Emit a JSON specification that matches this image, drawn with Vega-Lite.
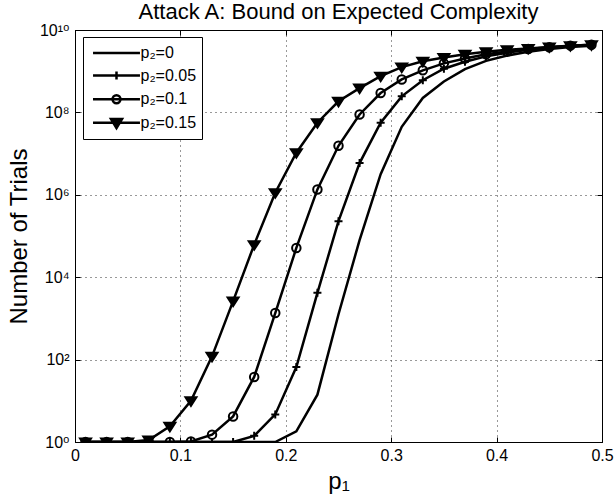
{
  "$schema": "https://vega.github.io/schema/vega-lite/v6.json",
  "width": 527,
  "height": 412,
  "autosize": "none",
  "padding": {"left": 75, "top": 30, "right": 12, "bottom": 61},
  "background": "white",
  "config": {
    "font": "Liberation Sans, DejaVu Sans, sans-serif",
    "view": {"stroke": "black", "strokeWidth": 1},
    "axis": {
      "domainColor": "black",
      "domainWidth": 1,
      "tickColor": "black",
      "tickSize": -5,
      "tickWidth": 1,
      "labelColor": "black",
      "labelFont": "Liberation Sans, DejaVu Sans, sans-serif",
      "labelFontSize": 16,
      "titleColor": "black",
      "titleFont": "Liberation Sans, DejaVu Sans, sans-serif",
      "titleFontSize": 24,
      "titleFontWeight": "normal",
      "gridColor": "#333333",
      "gridDash": [1, 4],
      "gridWidth": 1,
      "gridOpacity": 1
    },
    "title": {"font": "Liberation Sans, DejaVu Sans, sans-serif", "fontSize": 22, "fontWeight": "normal", "color": "black", "offset": 0, "baseline": "alphabetic"}
  },
  "title": {"text": "Attack A: Bound on Expected Complexity", "anchor": "middle", "dy": 6},
  "data": {
    "values": [
      {"p1": 0.01, "s": "p₂=0", "n": 1},
      {"p1": 0.03, "s": "p₂=0", "n": 1},
      {"p1": 0.05, "s": "p₂=0", "n": 1},
      {"p1": 0.07, "s": "p₂=0", "n": 1},
      {"p1": 0.09, "s": "p₂=0", "n": 1},
      {"p1": 0.11, "s": "p₂=0", "n": 1},
      {"p1": 0.13, "s": "p₂=0", "n": 1},
      {"p1": 0.15, "s": "p₂=0", "n": 1},
      {"p1": 0.17, "s": "p₂=0", "n": 1},
      {"p1": 0.19, "s": "p₂=0", "n": 1},
      {"p1": 0.21, "s": "p₂=0", "n": 1.82},
      {"p1": 0.23, "s": "p₂=0", "n": 14.1},
      {"p1": 0.25, "s": "p₂=0", "n": 1259},
      {"p1": 0.27, "s": "p₂=0", "n": 79400},
      {"p1": 0.29, "s": "p₂=0", "n": 3.16e6},
      {"p1": 0.31, "s": "p₂=0", "n": 4.47e7},
      {"p1": 0.33, "s": "p₂=0", "n": 2.24e8},
      {"p1": 0.35, "s": "p₂=0", "n": 5.62e8},
      {"p1": 0.37, "s": "p₂=0", "n": 1.12e9},
      {"p1": 0.39, "s": "p₂=0", "n": 1.78e9},
      {"p1": 0.41, "s": "p₂=0", "n": 2.40e9},
      {"p1": 0.43, "s": "p₂=0", "n": 2.95e9},
      {"p1": 0.45, "s": "p₂=0", "n": 3.47e9},
      {"p1": 0.47, "s": "p₂=0", "n": 3.89e9},
      {"p1": 0.49, "s": "p₂=0", "n": 4.17e9},

      {"p1": 0.01, "s": "p₂=0.05", "n": 1},
      {"p1": 0.03, "s": "p₂=0.05", "n": 1},
      {"p1": 0.05, "s": "p₂=0.05", "n": 1},
      {"p1": 0.07, "s": "p₂=0.05", "n": 1},
      {"p1": 0.09, "s": "p₂=0.05", "n": 1},
      {"p1": 0.11, "s": "p₂=0.05", "n": 1},
      {"p1": 0.13, "s": "p₂=0.05", "n": 1},
      {"p1": 0.15, "s": "p₂=0.05", "n": 1},
      {"p1": 0.17, "s": "p₂=0.05", "n": 1.41},
      {"p1": 0.19, "s": "p₂=0.05", "n": 4.68},
      {"p1": 0.21, "s": "p₂=0.05", "n": 66.1},
      {"p1": 0.23, "s": "p₂=0.05", "n": 4170},
      {"p1": 0.25, "s": "p₂=0.05", "n": 2.29e5},
      {"p1": 0.27, "s": "p₂=0.05", "n": 5.89e6},
      {"p1": 0.29, "s": "p₂=0.05", "n": 5.62e7},
      {"p1": 0.31, "s": "p₂=0.05", "n": 2.45e8},
      {"p1": 0.33, "s": "p₂=0.05", "n": 6.03e8},
      {"p1": 0.35, "s": "p₂=0.05", "n": 1.15e9},
      {"p1": 0.37, "s": "p₂=0.05", "n": 1.70e9},
      {"p1": 0.39, "s": "p₂=0.05", "n": 2.29e9},
      {"p1": 0.41, "s": "p₂=0.05", "n": 2.82e9},
      {"p1": 0.43, "s": "p₂=0.05", "n": 3.31e9},
      {"p1": 0.45, "s": "p₂=0.05", "n": 3.72e9},
      {"p1": 0.47, "s": "p₂=0.05", "n": 4.07e9},
      {"p1": 0.49, "s": "p₂=0.05", "n": 4.27e9},

      {"p1": 0.01, "s": "p₂=0.1", "n": 1},
      {"p1": 0.03, "s": "p₂=0.1", "n": 1},
      {"p1": 0.05, "s": "p₂=0.1", "n": 1},
      {"p1": 0.07, "s": "p₂=0.1", "n": 1},
      {"p1": 0.09, "s": "p₂=0.1", "n": 1},
      {"p1": 0.11, "s": "p₂=0.1", "n": 1.03},
      {"p1": 0.13, "s": "p₂=0.1", "n": 1.51},
      {"p1": 0.15, "s": "p₂=0.1", "n": 4.17},
      {"p1": 0.17, "s": "p₂=0.1", "n": 38.0},
      {"p1": 0.19, "s": "p₂=0.1", "n": 1349},
      {"p1": 0.21, "s": "p₂=0.1", "n": 51300},
      {"p1": 0.23, "s": "p₂=0.1", "n": 1.35e6},
      {"p1": 0.25, "s": "p₂=0.1", "n": 1.55e7},
      {"p1": 0.27, "s": "p₂=0.1", "n": 8.91e7},
      {"p1": 0.29, "s": "p₂=0.1", "n": 2.95e8},
      {"p1": 0.31, "s": "p₂=0.1", "n": 6.31e8},
      {"p1": 0.33, "s": "p₂=0.1", "n": 1.05e9},
      {"p1": 0.35, "s": "p₂=0.1", "n": 1.55e9},
      {"p1": 0.37, "s": "p₂=0.1", "n": 2.04e9},
      {"p1": 0.39, "s": "p₂=0.1", "n": 2.57e9},
      {"p1": 0.41, "s": "p₂=0.1", "n": 3.02e9},
      {"p1": 0.43, "s": "p₂=0.1", "n": 3.47e9},
      {"p1": 0.45, "s": "p₂=0.1", "n": 3.80e9},
      {"p1": 0.47, "s": "p₂=0.1", "n": 4.17e9},
      {"p1": 0.49, "s": "p₂=0.1", "n": 4.37e9},

      {"p1": 0.01, "s": "p₂=0.15", "n": 1},
      {"p1": 0.03, "s": "p₂=0.15", "n": 1},
      {"p1": 0.05, "s": "p₂=0.15", "n": 1},
      {"p1": 0.07, "s": "p₂=0.15", "n": 1.12},
      {"p1": 0.09, "s": "p₂=0.15", "n": 2.40},
      {"p1": 0.11, "s": "p₂=0.15", "n": 10},
      {"p1": 0.13, "s": "p₂=0.15", "n": 120},
      {"p1": 0.15, "s": "p₂=0.15", "n": 2630},
      {"p1": 0.17, "s": "p₂=0.15", "n": 61700},
      {"p1": 0.19, "s": "p₂=0.15", "n": 1.12e6},
      {"p1": 0.21, "s": "p₂=0.15", "n": 1.05e7},
      {"p1": 0.23, "s": "p₂=0.15", "n": 5.62e7},
      {"p1": 0.25, "s": "p₂=0.15", "n": 1.86e8},
      {"p1": 0.27, "s": "p₂=0.15", "n": 3.89e8},
      {"p1": 0.29, "s": "p₂=0.15", "n": 7.59e8},
      {"p1": 0.31, "s": "p₂=0.15", "n": 1.26e9},
      {"p1": 0.33, "s": "p₂=0.15", "n": 1.74e9},
      {"p1": 0.35, "s": "p₂=0.15", "n": 2.14e9},
      {"p1": 0.37, "s": "p₂=0.15", "n": 2.57e9},
      {"p1": 0.39, "s": "p₂=0.15", "n": 2.95e9},
      {"p1": 0.41, "s": "p₂=0.15", "n": 3.31e9},
      {"p1": 0.43, "s": "p₂=0.15", "n": 3.55e9},
      {"p1": 0.45, "s": "p₂=0.15", "n": 3.89e9},
      {"p1": 0.47, "s": "p₂=0.15", "n": 4.17e9},
      {"p1": 0.49, "s": "p₂=0.15", "n": 4.37e9}
    ]
  },
  "resolve": {"axis": {"x": "independent", "y": "independent"}, "scale": {"shape": "independent"}, "legend": {"shape": "independent"}},
  "layer": [
    {
      "mark": {"type": "line", "color": "black", "strokeWidth": 2.5, "clip": true},
      "encoding": {
        "x": {
          "field": "p1", "type": "quantitative",
          "scale": {"domain": [0, 0.5], "nice": false, "zero": false},
          "axis": {"orient": "bottom", "values": [0, 0.1, 0.2, 0.3, 0.4, 0.5], "format": "~g", "grid": true, "title": "p₁", "labelPadding": 10, "titlePadding": 6, "labelFlush": false}
        },
        "y": {
          "field": "n", "type": "quantitative",
          "scale": {"type": "log", "domain": [1, 10000000000], "nice": false},
          "axis": {
            "orient": "left",
            "values": [1, 100, 10000, 1000000, 100000000, 10000000000],
            "labelExpr": "datum.value == 1 ? '10⁰' : datum.value == 100 ? '10²' : datum.value == 10000 ? '10⁴' : datum.value == 1000000 ? '10⁶' : datum.value == 100000000 ? '10⁸' : '10¹⁰'",
            "grid": true, "title": "Number of Trials", "labelPadding": 11, "titlePadding": 8, "labelFlush": false
          }
        },
        "detail": {"field": "s", "type": "nominal"}
      }
    },
    {
      "mark": {"type": "point", "stroke": "black", "strokeWidth": 2, "opacity": 1, "size": 100, "clip": true},
      "encoding": {
        "x": {
          "field": "p1", "type": "quantitative",
          "axis": {"orient": "top", "values": [0, 0.1, 0.2, 0.3, 0.4, 0.5], "labels": false, "title": null, "grid": false}
        },
        "y": {
          "field": "n", "type": "quantitative",
          "axis": {"orient": "right", "values": [1, 100, 10000, 1000000, 100000000, 10000000000], "labels": false, "title": null, "grid": false}
        },
        "shape": {
          "field": "s", "type": "nominal",
          "scale": {
            "domain": ["p₂=0", "p₂=0.05", "p₂=0.1", "p₂=0.15"],
            "range": ["M0,0", "M-0.8,0L0.8,0M0,-0.8L0,0.8", "M0.85,0A0.85,0.85 0 1,1 -0.85,0A0.85,0.85 0 1,1 0.85,0Z", "M-1.1,-0.7L1.1,-0.7L0,1.0Z"]
          },
          "legend": null
        },
        "fill": {
          "field": "s", "type": "nominal",
          "scale": {"domain": ["p₂=0", "p₂=0.05", "p₂=0.1", "p₂=0.15"], "range": ["transparent", "transparent", "transparent", "black"]},
          "legend": null
        }
      }
    },
    {
      "transform": [{"filter": "datum.p1 < 0"}],
      "mark": {"type": "point", "filled": false, "stroke": "black", "strokeWidth": 2.5, "opacity": 1},
      "encoding": {
        "x": {"field": "p1", "type": "quantitative", "axis": null},
        "y": {"field": "n", "type": "quantitative", "axis": null},
        "shape": {
          "field": "s", "type": "nominal",
          "scale": {
            "domain": ["p₂=0", "p₂=0.05", "p₂=0.1", "p₂=0.15"],
            "range": [
              "M-2.47,0L2.47,0",
              "M-2.47,0L2.47,0M0,-0.42L0,0.42",
              "M-2.47,0L2.47,0M0.42,0A0.42,0.42 0 1,1 -0.42,0A0.42,0.42 0 1,1 0.42,0",
              "M-2.47,0L2.47,0M-0.58,-0.4L0.58,-0.4L0,0.55ZM-0.31,-0.24L0.31,-0.24L0,0.27ZM-0.09,-0.13L0.09,-0.13L0,0.02Z"
            ]
          },
          "legend": {
            "title": null,
            "orient": "none",
            "legendX": 8,
            "legendY": 7,
            "padding": 5,
            "strokeColor": "black",
            "fillColor": "white",
            "symbolSize": 361,
            "symbolStrokeWidth": 2.5,
            "symbolStrokeColor": "black",
            "symbolFillColor": "transparent",
            "symbolOffset": 17.5,
            "labelOffset": 13,
            "rowPadding": 3.6,
            "labelFont": "Liberation Sans, DejaVu Sans, sans-serif",
            "labelFontSize": 16,
            "labelColor": "black"
          }
        }
      }
    }
  ]
}
